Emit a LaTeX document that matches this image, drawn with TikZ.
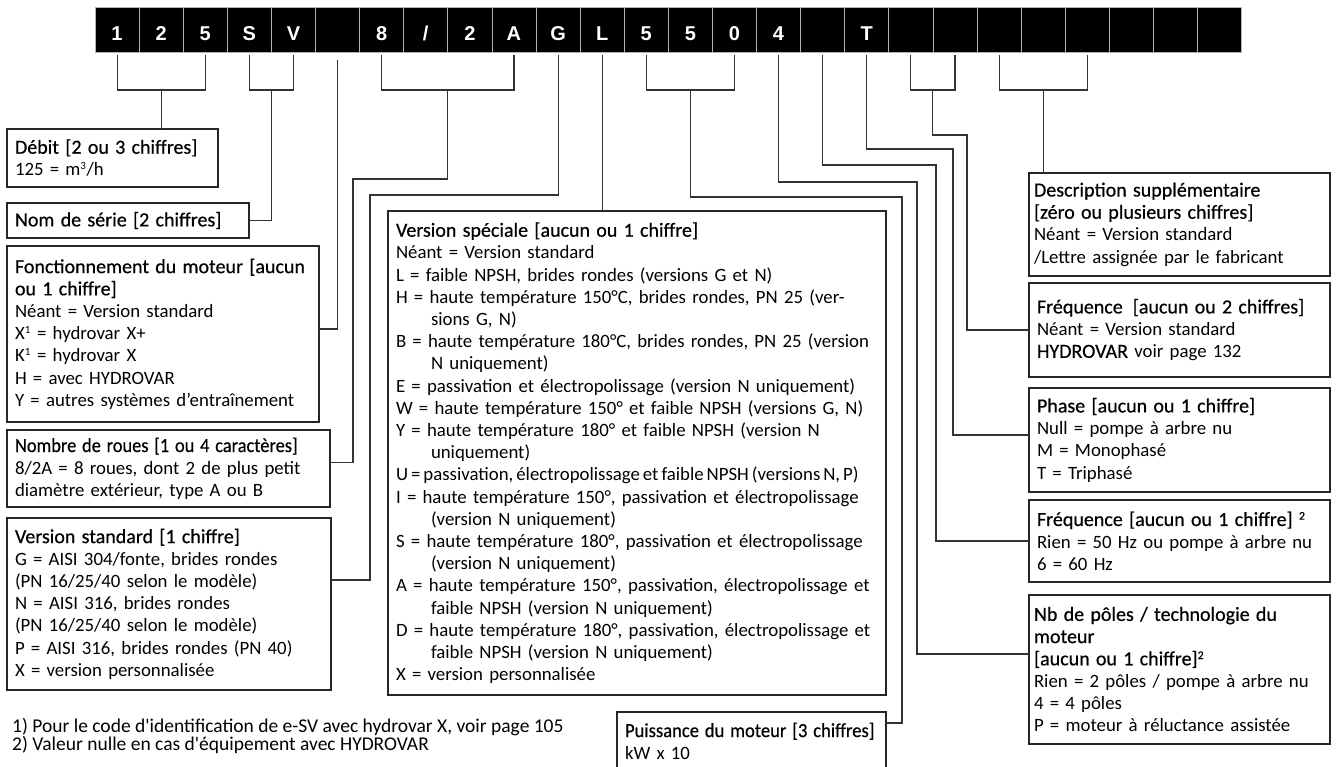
\documentclass[tikz,border=0pt]{standalone}
\usepackage{fontspec}
\usepackage{tikz}
\usetikzlibrary{positioning}
\newfontfamily\bodyfont{Carlito}
\newfontfamily\titlefont{Carlito}[FakeBold=0.5, Scale=1.064]
\newfontfamily\codefont{Liberation Sans}[BoldFont=* Bold]
\hyphenpenalty=10000
\exhyphenpenalty=10000

\begin{document}
\begin{tikzpicture}[x=1pt, y=-1pt]
    % Define styles
    \tikzstyle{cell} = [draw=white!70!black, line width=0.8pt, fill=black, text=white, minimum width=44.1pt, minimum height=45pt, inner sep=0pt, outer sep=0pt, text height=22pt, text depth=0pt, font=\codefont\bfseries\fontsize{20}{20}\selectfont]
    \tikzstyle{infobox} = [draw=black!85, line width=2.4pt, rectangle, inner xsep=8pt, inner ysep=0pt, outer sep=0pt, anchor=north west, font=\bodyfont\fontsize{18.8}{22.2}\selectfont]
    \tikzstyle{leader} = [black!80, line width=1.1pt]

    \useasboundingbox (0,0) rectangle (1336,767);

    % CODE STRIP
    \node (cell1) [cell] at (117.05,29.5) {1};
    \node (cell2) [cell, right=0pt of cell1] {2};
    \node (cell3) [cell, right=0pt of cell2] {5};
    \node (cell4) [cell, right=0pt of cell3] {S};
    \node (cell5) [cell, right=0pt of cell4] {V};
    \node (cell6) [cell, right=0pt of cell5] {};
    \node (cell7) [cell, right=0pt of cell6] {8};
    \node (cell8) [cell, right=0pt of cell7] {/};
    \node (cell9) [cell, right=0pt of cell8] {2};
    \node (cell10) [cell, right=0pt of cell9] {A};
    \node (cell11) [cell, right=0pt of cell10] {G};
    \node (cell12) [cell, right=0pt of cell11] {L};
    \node (cell13) [cell, right=0pt of cell12] {5};
    \node (cell14) [cell, right=0pt of cell13] {5};
    \node (cell15) [cell, right=0pt of cell14] {0};
    \node (cell16) [cell, right=0pt of cell15] {4};
    \node (cell17) [cell, right=0pt of cell16] {};
    \node (cell18) [cell, right=0pt of cell17] {T};
    \node (cell19) [cell, right=0pt of cell18] {};
    \node (cell20) [cell, right=0pt of cell19] {};
    \node (cell21) [cell, right=0pt of cell20] {};
    \node (cell22) [cell, right=0pt of cell21] {};
    \node (cell23) [cell, right=0pt of cell22] {};
    \node (cell24) [cell, right=0pt of cell23] {};
    \node (cell25) [cell, right=0pt of cell24] {};
    \node (cell26) [cell, right=0pt of cell25] {};

    % LEFT COLUMN
    \node (debit) [infobox, text width=195pt, minimum height=58pt] at (7,129)
        {{\titlefont Débit [2 ou 3 chiffres]}\\125 = m\textsuperscript{\fontsize{11}{11}\selectfont 3}/h};
    \node (serie) [infobox, text width=226pt, minimum height=35pt, below=16pt of debit.south west, anchor=north west]
        {\titlefont Nom de série [2 chiffres]};
    \node (moteur) [infobox, text width=296pt, minimum height=176pt, below=8pt of serie.south west, anchor=north west]
        {{\titlefont Fonctionnement du moteur [aucun\\ou 1 chiffre]}\\
        Néant = Version standard\\
        X\textsuperscript{\fontsize{11}{11}\selectfont 1} = hydrovar X+\\
        K\textsuperscript{\fontsize{11}{11}\selectfont 1} = hydrovar X\\
        H = avec HYDROVAR\\
        Y = autres systèmes d’entraînement};
    \node (roues) [infobox, text width=307pt, minimum height=77pt, below=8pt of moteur.south west, anchor=north west]
        {\scalebox{0.92}[1]{\titlefont Nombre de roues [1 ou 4 caractères]}\\
        8/2A = 8 roues, dont 2 de plus petit\linebreak diamètre extérieur, type A ou B};
    \node (vstandard) [infobox, text width=308pt, minimum height=172pt, below=11pt of roues.south west, anchor=north west]
        {{\titlefont Version standard [1 chiffre]}\\
        G = AISI 304/fonte, brides rondes\\
        (PN 16/25/40 selon le modèle)\\
        N = AISI 316, brides rondes\\
        (PN 16/25/40 selon le modèle)\\
        P = AISI 316, brides rondes (PN 40)\\
        X = version personnalisée};

    % MIDDLE
    \node (vspeciale) [infobox, text width=482pt, minimum height=484pt] at (388,211)
        {{\titlefont Version spéciale [aucun ou 1 chiffre]}\par
        Néant = Version standard\par
        L = faible NPSH, brides rondes (versions G et N)\par
        \hangindent=35pt H = haute température 150°C, brides rondes, PN 25 (ver-\linebreak sions G, N)\par
        \hangindent=35pt B = haute température 180°C, brides rondes, PN 25 (version\linebreak N uniquement)\par
        E = passivation et électropolissage (version N uniquement)\par
        W = haute température 150° et faible NPSH (versions G, N)\par
        \hangindent=35pt Y = haute température 180° et faible NPSH (version N\linebreak uniquement)\par
        {\spaceskip=.16em plus .1em minus .04em U = passivation, électropolissage et faible NPSH (versions N, P)}\par
        \hangindent=35pt I = haute température 150°, passivation et électropolissage\linebreak (version N uniquement)\par
        \hangindent=35pt S = haute température 180°, passivation et électropolissage\linebreak (version N uniquement)\par
        \hangindent=35pt A = haute température 150°, passivation, électropolissage et\linebreak faible NPSH (version N uniquement)\par
        \hangindent=35pt D = haute température 180°, passivation, électropolissage et\linebreak faible NPSH (version N uniquement)\par
        X = version personnalisée};
    \node (puissance) [infobox, text width=253pt, minimum height=58pt, below=17pt of vspeciale.south east, anchor=north east]
        {\scalebox{0.93}[1]{\titlefont Puissance du moteur [3 chiffres]}\\kW x 10};

    % RIGHT COLUMN
    \node (descr) [infobox, text width=291pt, inner xsep=5pt, minimum height=103pt] at (1029,173)
        {{\titlefont Description supplémentaire\\{}[zéro ou plusieurs chiffres]}\\
        Néant = Version standard\\
        /Lettre assignée par le fabricant};
    \node (freq_two) [infobox, text width=285pt, minimum height=94pt, below=7pt of descr]
        {{\titlefont Fréquence\enspace[aucun ou 2 chiffres]}\\
        Néant = Version standard\\
        {\titlefont HYDROVAR} voir page 132};
    \node (phase) [infobox, text width=285pt, minimum height=104pt, below=11pt of freq_two]
        {{\titlefont Phase [aucun ou 1 chiffre]}\\
        Null = pompe à arbre nu\\
        M = Monophasé\\
        T = Triphasé};
    \node (freq_one) [infobox, text width=285pt, minimum height=82pt, below=8pt of phase]
        {{\titlefont Fréquence [aucun ou 1 chiffre] \textsuperscript{\fontsize{11}{11}\selectfont 2}}\\
        Rien = 50 Hz ou pompe à arbre nu\\
        6 = 60 Hz};
    \node (poles) [infobox, text width=291pt, inner xsep=5pt, minimum height=149pt, below=13pt of freq_one]
        {{\titlefont Nb de pôles / technologie du\\moteur\\{}[aucun ou 1 chiffre]\textsuperscript{\fontsize{11}{11}\selectfont 2}}\\
        Rien = 2 pôles / pompe à arbre nu\\
        4 = 4 pôles\\
        P = moteur à réluctance assistée};

    % Footnotes
    \node (notes) [anchor=north west, inner sep=0pt, align=left, font=\bodyfont\fontsize{19.5}{18}\selectfont] at (12,718)
        {1) Pour le code d'identification de e-SV avec hydrovar X, voir page 105\\
        2) Valeur nulle en cas d'équipement avec HYDROVAR};

    % CONNECTIONS
    \draw[leader] ([yshift=-3pt]cell1.south) |- ([yshift=-38pt]cell3.south) -- ([yshift=-3pt]cell3.south);
    \draw[leader] ([yshift=-38pt]cell2.south) -- (cell2.south |- debit.north);

    \draw[leader] ([yshift=-3pt]cell4.south) |- ([yshift=-38pt]cell5.south) -- ([yshift=-3pt]cell5.south);
    \draw[leader] ([yshift=-38pt]cell4.south east) |- (serie.east);

    \draw[leader] ([yshift=-8pt]cell6.south) |- ([yshift=5pt]moteur.east);

    \draw[leader] ([yshift=-3pt]cell7.south) |- ([yshift=-38pt]cell10.south) -- ([yshift=-3pt]cell10.south);
    \draw[leader] ([yshift=-38pt]cell8.south east) -- ++(0,89) -| ([xshift=23pt,yshift=6pt]roues.east) -- ([yshift=6pt]roues.east);

    \draw[leader] ([yshift=-3pt]cell11.south) -- ++(0,140) -| ([xshift=39pt,yshift=24pt]vstandard.east) -- ([yshift=24pt]vstandard.east);
    \draw[leader] ([yshift=-3pt]cell12.south) -- (cell12.south |- vspeciale.north);

    \draw[leader] ([yshift=-3pt]cell13.south) |- ([yshift=-38pt]cell15.south) -- ([yshift=-3pt]cell15.south);
    \draw[leader] ([yshift=-38pt]cell14.south) -- ++(0,107) -| ([xshift=16pt,yshift=-11pt]puissance.north east) -- ([yshift=-11pt]puissance.north east);

    \draw[leader] ([yshift=-3pt]cell16.south) -- ++(0,127) -| ([xshift=-112pt,yshift=-59pt]poles.north west) -- ([yshift=-59pt]poles.north west);
    \draw[leader] ([yshift=-3pt]cell17.south) -- ++(0,110) -| ([xshift=-93pt]freq_one.west) -- (freq_one.west);
    \draw[leader] ([yshift=-3pt]cell18.south) -- ++(0,94) -| ([xshift=-76pt,yshift=5pt]phase.west) -- ([yshift=5pt]phase.west);

    % Trailing digits
    \draw[leader] ([yshift=-3pt]cell19.south) |- ([yshift=-38pt]cell20.south) -- ([yshift=-3pt]cell20.south);
    \draw[leader] ([yshift=-38pt]cell19.south east) -- ++(0,45) -| ([xshift=-62pt]freq_two.west) -- (freq_two.west);

    \draw[leader] ([yshift=-3pt]cell21.south) |- ([yshift=-38pt]cell23.south) -- ([yshift=-3pt]cell23.south);
    \draw[leader] ([yshift=-38pt]cell22.south) -- (cell22.south |- descr.north);

\end{tikzpicture}
\end{document}
